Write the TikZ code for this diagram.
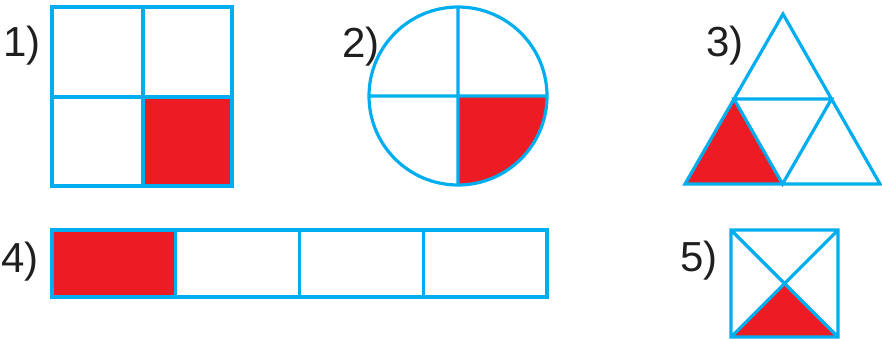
\documentclass[tikz,border=0pt]{standalone}
\usepackage{fontspec}
\setmainfont{Liberation Sans}
\usetikzlibrary{calc}
\definecolor{fraccyan}{RGB}{0,174,239}
\definecolor{fracred}{RGB}{237,28,36}
\begin{document}
\begin{tikzpicture}[x=0.5pt,y=0.5pt,line width=1.6pt,
  part/.style={draw=fraccyan},
  shaded/.style={fill=fracred},
  num/.style={text=black!88,font=\fontsize{21}{25}\selectfont}]
\useasboundingbox (0,0) rectangle (882,339);
% 1) square in four
\fill[shaded] (143,153) rectangle (232,242);
\draw[part] (52,153) rectangle (232,332) (143,153)--(143,332) (52,242)--(232,242);
\node[num] (lab1) at (22,293) {1)};
% 2) circle in four
\coordinate (c2) at (458,243);
\fill[shaded] (c2) -- ++(89,0) arc[start angle=0,end angle=-90,radius=89] -- cycle;
\draw[part] (c2) circle[radius=89] ($(c2)+(-89,0)$)--($(c2)+(89,0)$) ($(c2)+(0,-89)$)--($(c2)+(0,89)$);
\node[num] (lab2) at (361,292) {2)};
% 3) triangle in four
\coordinate (t1) at (685,155);
\coordinate (t2) at (880,155);
\coordinate (t3) at (783,325);
\coordinate (m12) at ($(t1)!0.5!(t2)$);
\coordinate (m23) at ($(t2)!0.5!(t3)$);
\coordinate (m13) at ($(t1)!0.5!(t3)$);
\fill[shaded] (t1)--(m12)--(m13)--cycle;
\draw[part] (t1)--(t2)--(t3)--cycle (m12)--(m23)--(m13)--cycle;
\node[num] (lab3) at (725,293) {3)};
% 4) strip in four
\fill[shaded] (52,42) rectangle (175.75,109);
\draw[part] (52,42) rectangle (547,109);
\foreach \k in {1,2,3}{\draw[part] (52+123.75*\k,42)--(52+123.75*\k,109);}
\node[num] (lab4) at (20,77) {4)};
% 5) square cut by diagonals
\coordinate (s1) at (731,2);
\coordinate (s2) at (838,2);
\coordinate (s3) at (838,109);
\coordinate (s4) at (731,109);
\coordinate (s0) at ($(s1)!0.5!(s3)$);
\fill[shaded] (s1)--(s2)--(s0)--cycle;
\draw[part] (s1)--(s2)--(s3)--(s4)--cycle (s1)--(s3) (s2)--(s4);
\node[num] (lab5) at (699,78) {5)};
\end{tikzpicture}
\end{document}
